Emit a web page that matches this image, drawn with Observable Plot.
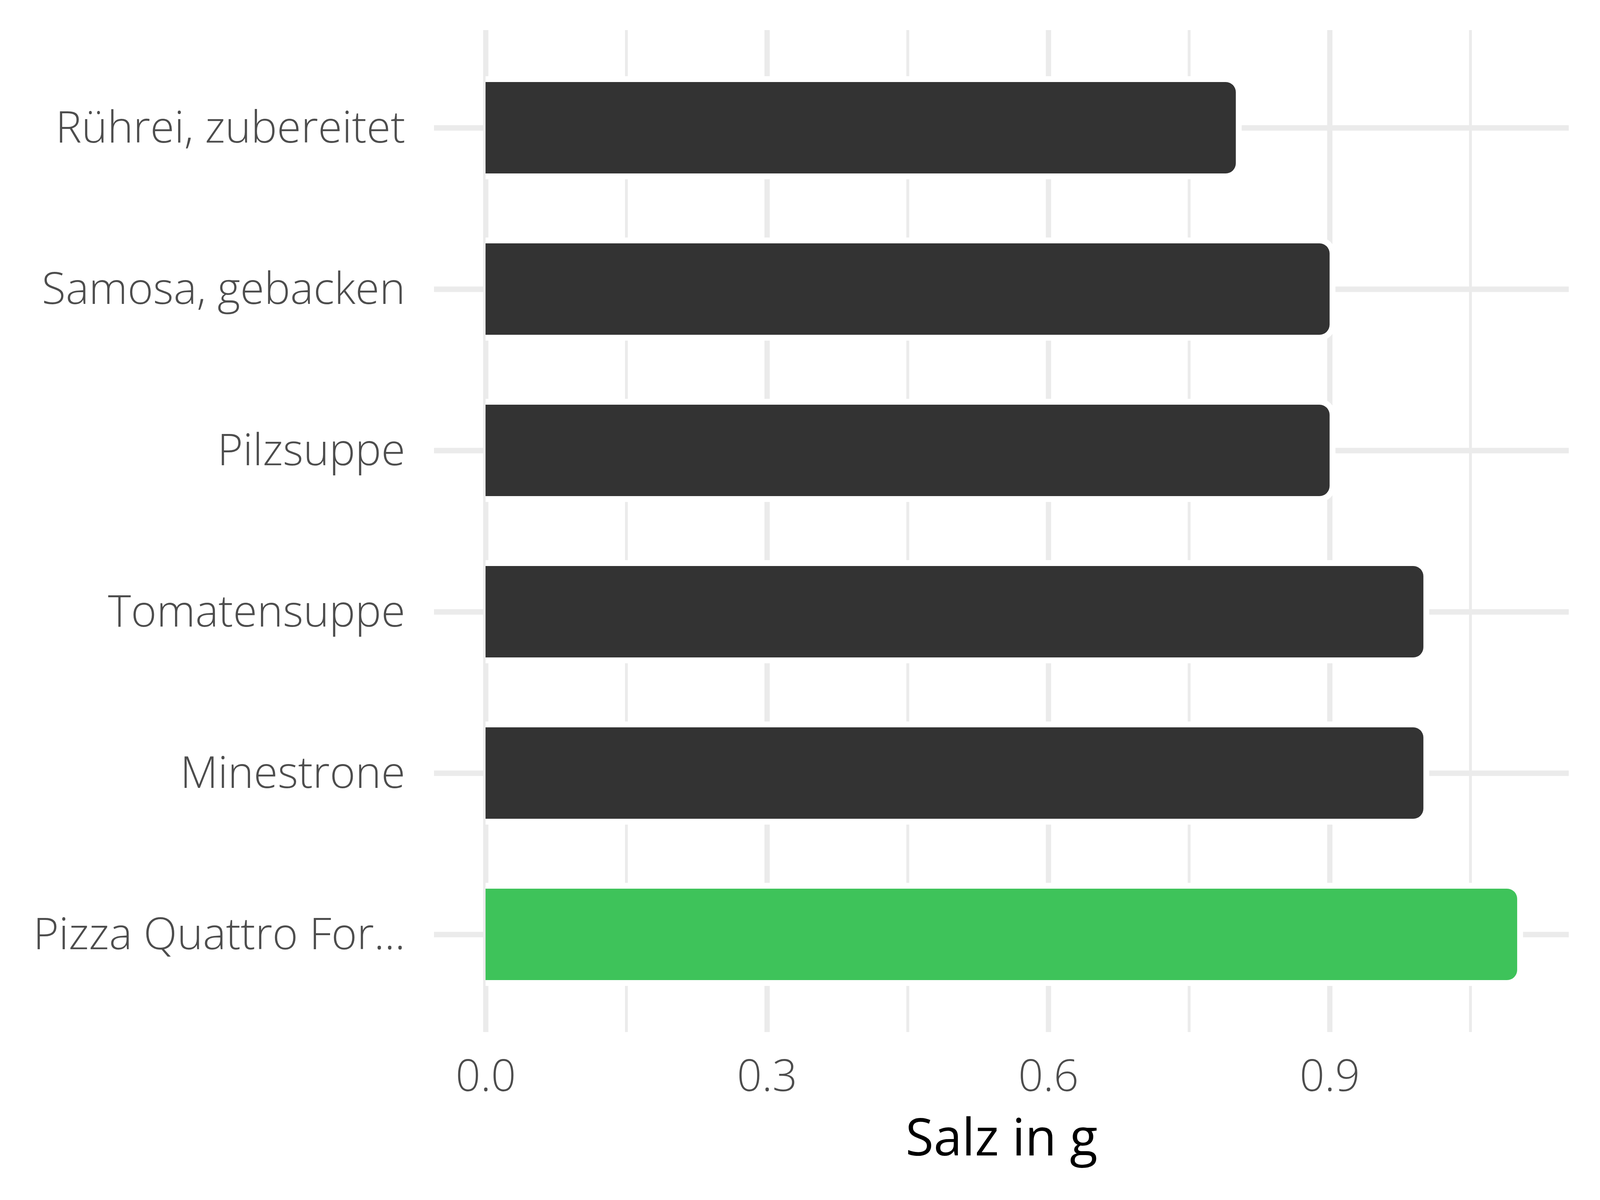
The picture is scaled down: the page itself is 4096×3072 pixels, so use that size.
<!DOCTYPE html>
<html>
<head>
<meta charset="utf-8">
<script src="https://cdn.jsdelivr.net/npm/d3@7"></script>
<script src="https://cdn.jsdelivr.net/npm/@observablehq/plot@0.6"></script>
<style>
  html, body { margin: 0; padding: 0; background: #ffffff; }
</style>
</head>
<body>
<div id="chart"></div>
<script>
// Data
const categories = ["Rührei, zubereitet", "Samosa, gebacken", "Pilzsuppe", "Tomatensuppe", "Minestrone", "Pizza Quattro For..."];
const values = [0.8, 0.9, 0.9, 1.0, 1.0, 1.1];
const highlighted = [false, false, false, false, false, true];
const xTicks = [0, 0.3, 0.6, 0.9];
const xTickLabels = ["0.0", "0.3", "0.6", "0.9"];
const xMinorTicks = [0.15, 0.45, 0.75, 1.05];
const xTitle = "Salz in g";

const rows = categories.map((c, i) => ({name: c, value: values[i], hl: highlighted[i]}));
const tickRows = xTicks.map((t, i) => ({x: t, label: xTickLabels[i]}));

const font = "'Open Sans', 'Noto Sans', sans-serif";
const grid = "#EBEBEB";
const dark = "#333333";
const green = "#3EC35A";
const radius = 26;
const gap = 15;

const chart = Plot.plot({
  width: 4096,
  height: 3072,
  marginLeft: 1111,
  marginRight: 80,
  marginTop: 77,
  marginBottom: 430,
  style: {fontFamily: font, background: "#ffffff"},
  x: {domain: [-0.055, 1.155], axis: null},
  y: {domain: categories, axis: null, paddingInner: 0.434, paddingOuter: 0.317},
  marks: [
    Plot.gridX(xMinorTicks, {stroke: grid, strokeOpacity: 1, strokeWidth: 7.3}),
    Plot.gridX(xTicks, {stroke: grid, strokeOpacity: 1, strokeWidth: 13.6}),
    Plot.gridY(categories, {stroke: grid, strokeOpacity: 1, strokeWidth: 14}),
    // white outline around bars
    Plot.barX(rows, {x: "value", y: "name", fill: "#ffffff", rx: radius + gap,
      insetTop: -gap, insetBottom: -gap, insetRight: -gap, insetLeft: 0}),
    Plot.barX(rows, {x1: 0, x2: d => d.value / 2, y: "name", fill: "#ffffff",
      insetTop: -gap, insetBottom: -gap}),
    // bars: rounded right end, square left end
    Plot.barX(rows, {x: "value", y: "name", fill: d => d.hl ? green : dark, rx: radius}),
    Plot.barX(rows, {x1: 0, x2: d => d.value / 2, y: "name", fill: d => d.hl ? green : dark}),
    // y labels
    Plot.text(rows, {y: "name", text: "name", frameAnchor: "left", textAnchor: "end",
      dx: -74, dy: 2, fontSize: 112, fontWeight: 350, fill: "#4D4D4D", lineAnchor: "middle"}),
    // x tick labels
    Plot.text(tickRows, {x: "x", text: "label", frameAnchor: "bottom", lineAnchor: "top",
      dy: 71, fontSize: 112, fontWeight: 350, fill: "#4D4D4D"}),
    // x title
    Plot.text([xTitle], {text: d => d, frameAnchor: "bottom", lineAnchor: "top",
      dy: 222, fontSize: 131, fill: "#000000"})
  ]
});
document.getElementById("chart").appendChild(chart);
</script>
</body>
</html>
